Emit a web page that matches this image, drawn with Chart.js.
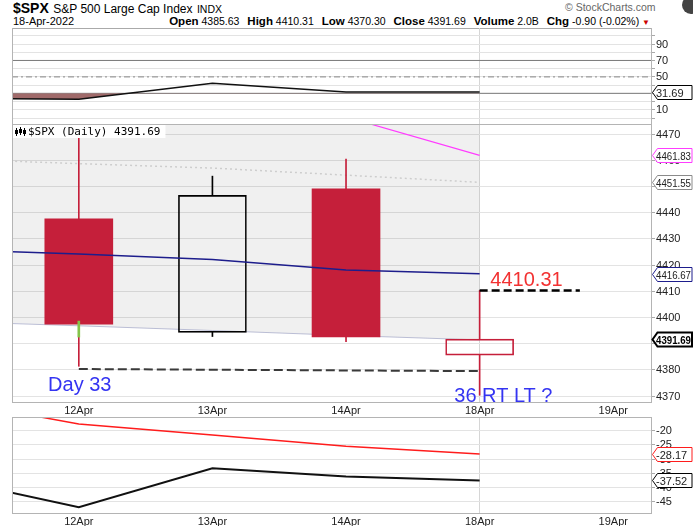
<!DOCTYPE html>
<html><head><meta charset="utf-8">
<script src="https://cdn.jsdelivr.net/npm/chart.js@4/dist/chart.umd.min.js"></script>
<style>
html,body{margin:0;padding:0;background:#fff;}
body{width:693px;height:526px;overflow:hidden;position:relative;font-family:"Liberation Sans",Arial,sans-serif;color:#000;}
.pan{position:absolute;left:0;width:693px;z-index:0;}
.abs{position:absolute;white-space:nowrap;}
#ov{position:absolute;left:0;top:0;width:693px;height:526px;z-index:5;pointer-events:none;transform:translateZ(0);}
.ylab{position:absolute;white-space:nowrap;font-size:11px;line-height:13px;color:#222;}
.tagsvg{position:absolute;overflow:visible;}
#h3 b{font-size:11.5px;margin-left:5px;}
</style></head><body>
<div class="abs" id="h1" style="left:13px;top:0px;line-height:16px;"></div>
<div class="abs" id="h2" style="left:13px;top:15px;font-size:11px;line-height:13px;"></div>
<div class="abs" id="h3" style="right:43px;top:15px;font-size:10.5px;line-height:13px;"></div>
<div class="abs" style="left:565px;top:1px;font-size:10.5px;color:#666;">© StockCharts.com</div>
<div class="abs" style="left:682px;top:-4px;width:18px;height:18px;border-radius:50%;background:#444;"></div>
<div class="abs" style="left:12px;top:28px;width:640px;height:0;border-top:1px solid #aaa;"></div>
<div class="pan" style="top:28px;height:96px;"><canvas id="cA" width="693" height="96"></canvas></div>
<div class="pan" style="top:124px;height:293px;"><canvas id="cB" width="693" height="293"></canvas></div>
<div class="pan" style="top:417px;height:109px;"><canvas id="cC" width="693" height="109"></canvas></div>
<div id="ov"></div>
<script>
// ---------------- DATA ----------------
const dates = ['12Apr', '13Apr', '14Apr', '18Apr', '19Apr'];
const openP  = [4437.59, 4394.30, 4449.12, 4385.63];
const highP  = [4471.00, 4453.92, 4460.46, 4410.31];
const lowP   = [4381.34, 4392.70, 4390.77, 4370.30];
const closeP = [4397.45, 4446.59, 4392.59, 4391.69];
const prevClose = 4412.53;
const volumeText = '2.0B';
const lineX      = [-1, 0, 1, 2, 3];
const maBlue     = [4426.0, 4424.2, 4422.1, 4418.1, 4416.67];
const bandLower  = [4398.5, 4396.8, 4395.0, 4393.1, 4391.4];
const dottedGray = [4460.5, 4458.7, 4457.0, 4454.3, 4451.55];
const magentaX   = [1, 2, 3];
const magentaVal = [4491.0, 4476.5, 4461.83];
const supportX   = [0, 3];
const supportVal = [4380.3, 4379.5];
const resistX    = [3, 3.75];
const resistVal  = [4410.31, 4410.31];
const greenMarkX = 0;
const greenMark  = [4392.5, 4398.6];
const rsiVal     = [24.3, 22.8, 42.2, 31.5, 31.69];
const rsiLevels  = [70, 50, 30];
const lowRed     = [-9.0, -17.7, -21.5, -25.5, -28.17];
const lowBlack   = [-36.7, -46.9, -33.2, -36.1, -37.52];
const mainTicks  = [4370, 4380, 4390, 4400, 4410, 4420, 4430, 4440, 4450, 4460, 4470];
const rsiTicks   = [0, 10, 20, 30, 40, 50, 60, 70, 80, 90, 100];
const rsiLabels  = [10, 30, 50, 70, 90];
const lowTicks   = [-45, -40, -35, -30, -25, -20];
const notes = [
  {text: '4410.31',   x: 3.08,  y: 4412.0, color: '#f23131'},
  {text: 'Day 33',    x: -0.23, y: 4372.1, color: '#3434f2'},
  {text: '36 RT LT ?', x: 2.81, y: 4367.9, color: '#3434f2'}
];

// ---------------- SETUP ----------------
const RED = '#c51f3a', BLACK = '#000', BORDER = '#b4b4b4', GRID = '#e3e3e3';
const FONT = '"Liberation Sans", Arial, sans-serif';
Chart.defaults.font.family = FONT;
Chart.defaults.font.size = 11;
Chart.defaults.color = '#222';
const xMin = -0.5, xMax = 4.29;
const last = closeP.length - 1;
const todayIdx = last;
const PANEL_TOP = {A: 28, B: 124, C: 417};
const ov = document.getElementById('ov');

// header
const chg = closeP[last] - closeP[last - 1];
const pct = chg / closeP[last - 1] * 100;
document.getElementById('h1').innerHTML =
  '<span style="font-weight:bold;font-size:14px">$SPX</span> <span style="font-size:12px">S&amp;P 500 Large Cap Index</span> <span style="font-size:10.5px">INDX</span>';
document.getElementById('h2').textContent = '18-Apr-2022';
document.getElementById('h3').innerHTML =
  '<b>Open</b> ' + openP[last].toFixed(2) +
  ' <b>High</b> ' + highP[last].toFixed(2) +
  ' <b>Low</b> ' + lowP[last].toFixed(2) +
  ' <b>Close</b> ' + closeP[last].toFixed(2) +
  ' <b>Volume</b> ' + volumeText +
  ' <b>Chg</b> ' + chg.toFixed(2) + ' (' + pct.toFixed(2) + '%) <span style="color:#c00;font-size:8px">&#9660;</span>';

function pts(xs, ys) { return xs.map((x, i) => ({x: x, y: ys[i]})); }

function yAxis(min, max, ticks) {
  return {
    type: 'linear', position: 'right', min: min, max: max,
    afterBuildTicks: s => { s.ticks = ticks.map(v => ({value: v})); },
    afterFit: s => { s.width = 41; s.paddingTop = 0; s.paddingBottom = 0; },
    ticks: {display: false, autoSkip: false},
    grid: {color: GRID, drawTicks: true, tickLength: 3, tickColor: '#aaa'},
    border: {display: false}
  };
}
function xAxis(showLabels, h) {
  return {
    type: 'linear', min: xMin, max: xMax, offset: false,
    afterBuildTicks: s => { s.ticks = dates.map((d, i) => ({value: i})); },
    afterFit: s => { s.height = h; s.paddingLeft = 0; s.paddingRight = 0; },
    ticks: {display: showLabels, autoSkip: false, maxRotation: 0, padding: 1, color: '#222',
            callback: v => dates[v] !== undefined ? dates[v] : ''},
    grid: {offset: false, drawTicks: false,
           color: c => (c.tick && c.tick.value === todayIdx) ? '#d6d6d6' : 'rgba(0,0,0,0)'},
    border: {display: false}
  };
}
function frame(ctx, a) {
  ctx.save();
  ctx.strokeStyle = BORDER; ctx.lineWidth = 1;
  ctx.strokeRect(a.left + 0.5, a.top + 0.5, a.right - a.left - 1, a.bottom - a.top - 1);
  ctx.restore();
}
// right-axis labels and value tags, placed as real text through each chart's y scale
const mctx = document.createElement('canvas').getContext('2d');
const NS = 'http://www.w3.org/2000/svg';
function overlay(panelTop, chart, labels, tags) {
  const sy = chart.scales.y, x0 = chart.chartArea.right;
  labels.forEach(v => {
    const d = document.createElement('div');
    d.className = 'ylab';
    d.textContent = String(v);
    d.style.left = (x0 + 4) + 'px';
    d.style.top = (panelTop + sy.getPixelForValue(v) - 6.5) + 'px';
    ov.appendChild(d);
  });
  tags.forEach(t => {
    const y = Math.round(panelTop + sy.getPixelForValue(t.v));
    const svg = document.createElementNS(NS, 'svg');
    svg.setAttribute('width', '41'); svg.setAttribute('height', '17');
    svg.setAttribute('class', 'tagsvg');
    svg.style.left = x0 + 'px'; svg.style.top = (y - 8) + 'px';
    const poly = document.createElementNS(NS, 'polygon');
    poly.setAttribute('points', '0.5,8.5 5.5,1.5 40,1.5 40,15.5 5.5,15.5');
    poly.setAttribute('fill', '#fff');
    poly.setAttribute('stroke', t.color);
    poly.setAttribute('stroke-width', t.bold ? '2' : '1');
    svg.appendChild(poly);
    const tx = document.createElementNS(NS, 'text');
    tx.setAttribute('x', '4'); tx.setAttribute('y', '12.5');
    tx.setAttribute('font-family', 'Liberation Sans, Arial, sans-serif');
    tx.setAttribute('font-size', '11');
    if (t.bold) tx.setAttribute('font-weight', 'bold');
    tx.setAttribute('fill', t.bold ? '#000' : '#222');
    tx.textContent = t.v.toFixed(2);
    mctx.font = (t.bold ? 'bold ' : '') + '11px ' + FONT;
    if (mctx.measureText(tx.textContent).width > 35) {
      tx.setAttribute('textLength', '35'); tx.setAttribute('lengthAdjust', 'spacingAndGlyphs');
    }
    svg.appendChild(tx);
    ov.appendChild(svg);
  });
}
const common = {
  responsive: false, animation: false, events: [],
  layout: {padding: {left: 12, right: 0, top: 0, bottom: 0}},
  plugins: {legend: {display: false}, tooltip: {enabled: false}}
};

// ---------------- CHART A (RSI) ----------------
const chartA = new Chart(document.getElementById('cA'), {
  type: 'line',
  data: {datasets: [
    {data: pts(lineX, rsiVal), borderColor: '#111', borderWidth: 1.5, pointRadius: 0, tension: 0,
     fill: {target: {value: 30}, above: 'rgba(0,0,0,0)', below: '#a06a6a'}, order: 1},
    ...rsiLevels.map(lv => ({
      data: [{x: xMin, y: lv}, {x: xMax, y: lv}], borderColor: lv === 50 ? '#888' : '#7a7a7a',
      borderWidth: 1, borderDash: lv === 50 ? [6, 3, 2, 3] : [], pointRadius: 0, fill: false, order: 2
    }))
  ]},
  options: Object.assign({}, common, {
    scales: {x: xAxis(false, 0), y: yAxis(-7.3, 109.5, rsiTicks)}
  }),
  plugins: [{
    id: 'decoA',
    afterDraw(chart) {
      const ctx = chart.ctx, a = chart.chartArea;
      ctx.save(); ctx.strokeStyle = BORDER; ctx.beginPath();
      ctx.moveTo(a.left + 0.5, a.top); ctx.lineTo(a.left + 0.5, a.bottom);
      ctx.moveTo(a.right - 0.5, a.top); ctx.lineTo(a.right - 0.5, a.bottom);
      ctx.stroke(); ctx.restore();
    }
  }]
});

// ---------------- CHART B (price) ----------------
const candleColor = i => closeP[i] < (i ? closeP[i - 1] : prevClose) ? RED : BLACK;
const candleFilled = i => closeP[i] < openP[i];
const idx = closeP.map((c, i) => i);
const chartB = new Chart(document.getElementById('cB'), {
  type: 'line',
  data: {datasets: [
    {type: 'line', data: pts(lineX, bandLower), borderColor: 'rgba(165,170,200,0.75)', borderWidth: 1,
     backgroundColor: 'rgba(0,0,0,0.058)', fill: 'end', pointRadius: 0, order: 20},
    {type: 'line', data: pts(lineX, dottedGray), borderColor: '#cdcdcd', borderWidth: 1.5, borderDash: [2, 3],
     pointRadius: 0, fill: false, order: 19},
    {type: 'bar', data: idx.map(i => ({x: i, y: [Math.max(openP[i], closeP[i]), highP[i]]})),
     backgroundColor: idx.map(candleColor), borderWidth: 0, barThickness: 1, grouped: false, order: 12},
    {type: 'bar', data: idx.map(i => ({x: i, y: [lowP[i], Math.min(openP[i], closeP[i])]})),
     backgroundColor: idx.map(candleColor), borderWidth: 0, barThickness: 1, grouped: false, order: 12},
    {type: 'bar', data: idx.map(i => ({x: i, y: [openP[i], closeP[i]]})),
     backgroundColor: idx.map(i => candleFilled(i) ? candleColor(i) : 'rgba(0,0,0,0)'),
     borderColor: idx.map(candleColor), borderWidth: idx.map(i => candleFilled(i) ? 0 : 1),
     borderSkipped: false, barThickness: 68, grouped: false, order: 10},
    {type: 'bar', data: [{x: greenMarkX, y: greenMark}], backgroundColor: '#84c44a', borderWidth: 0,
     barThickness: 2, grouped: false, order: 8},
    {type: 'line', data: pts(lineX, maBlue), borderColor: '#1d1d8c', borderWidth: 1.5, pointRadius: 0, fill: false, order: 2},
    {type: 'line', data: pts(magentaX, magentaVal), borderColor: '#ff3cff', borderWidth: 1.2, pointRadius: 0, fill: false, order: 2},
    {type: 'line', data: pts(supportX, supportVal), borderColor: '#3a3a3a', borderWidth: 2, borderDash: [9, 4],
     pointRadius: 0, fill: false, order: 3},
    {type: 'line', data: pts(resistX, resistVal), borderColor: '#000', borderWidth: 2.5, borderDash: [8, 4],
     pointRadius: 0, fill: false, order: 1}
  ]},
  options: Object.assign({}, common, {
    scales: {x: xAxis(true, 14), y: yAxis(4367.33, 4473.82, mainTicks)}
  }),
  plugins: [{
    id: 'decoB',
    afterDraw(chart) {
      const ctx = chart.ctx, a = chart.chartArea, sx = chart.scales.x, sy = chart.scales.y;
      ctx.save();
      ctx.font = '20px ' + FONT; ctx.textBaseline = 'alphabetic'; ctx.textAlign = 'left';
      notes.forEach(n => { ctx.fillStyle = n.color; ctx.fillText(n.text, sx.getPixelForValue(n.x), sy.getPixelForValue(n.y)); });
      ctx.restore();
      ctx.save();
      const label = '$SPX (Daily) ' + closeP[last].toFixed(2);
      ctx.font = '11px "DejaVu Sans Mono", monospace';
      const w = ctx.measureText(label).width;
      ctx.fillStyle = '#fff';
      ctx.fillRect(a.left + 1, a.top + 1, w + 20, 13);
      ctx.fillStyle = '#000';
      ctx.textBaseline = 'alphabetic';
      ctx.fillText(label, a.left + 16, a.top + 11);
      ctx.fillRect(a.left + 4, a.top + 4, 1, 8);
      ctx.fillRect(a.left + 3, a.top + 6, 3, 4);
      ctx.fillRect(a.left + 8, a.top + 3, 1, 8);
      ctx.fillRect(a.left + 7, a.top + 5, 3, 4);
      ctx.fillRect(a.left + 12, a.top + 4, 1, 8);
      ctx.strokeStyle = '#000'; ctx.strokeRect(a.left + 11.5, a.top + 6.5, 2, 3);
      ctx.restore();
      frame(ctx, a);
    }
  }]
});

// ---------------- CHART C (lower indicator) ----------------
const chartC = new Chart(document.getElementById('cC'), {
  type: 'line',
  data: {datasets: [
    {data: pts(lineX, lowRed), borderColor: '#ff1c1c', borderWidth: 1.5, pointRadius: 0, fill: false},
    {data: pts(lineX, lowBlack), borderColor: '#111', borderWidth: 2, pointRadius: 0, fill: false}
  ]},
  options: Object.assign({}, common, {
    scales: {x: xAxis(true, 12), y: yAxis(-49.3, -15.2, lowTicks)}
  }),
  plugins: [{
    id: 'decoC',
    afterDraw(chart) { frame(chart.ctx, chart.chartArea); }
  }]
});

// ---------------- axis labels and value tags ----------------
overlay(PANEL_TOP.A, chartA, rsiLabels, [{v: rsiVal[rsiVal.length - 1], color: '#000'}]);
overlay(PANEL_TOP.B, chartB, mainTicks, [
  {v: magentaVal[magentaVal.length - 1], color: '#ff3cff'},
  {v: dottedGray[dottedGray.length - 1], color: '#8a8a8a'},
  {v: maBlue[maBlue.length - 1], color: '#1d1d8c'},
  {v: closeP[last], color: '#000', bold: true}
]);
overlay(PANEL_TOP.C, chartC, lowTicks, [
  {v: lowRed[lowRed.length - 1], color: '#ff1c1c'},
  {v: lowBlack[lowBlack.length - 1], color: '#000'}
]);
</script>
</body></html>
